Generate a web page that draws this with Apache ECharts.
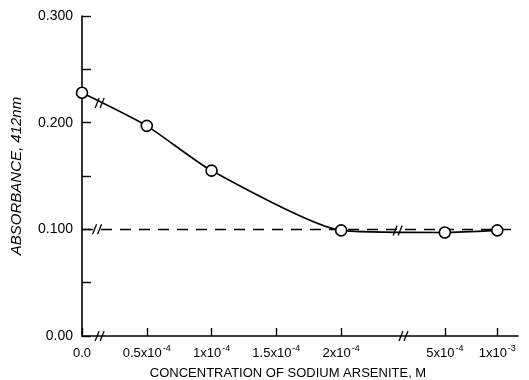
<!DOCTYPE html>
<html>
<head>
<meta charset="utf-8">
<script src="https://cdn.jsdelivr.net/npm/echarts@6/dist/echarts.min.js"></script>
<style>
  html, body { margin: 0; padding: 0; background: #fff; }
  #chart { width: 529px; height: 380px; }
</style>
</head>
<body>
<div id="chart"></div>
<script>
// broken x axis: concentrations drawn at these axis positions
const tickBase = ['0.0', '0.5x10', '1x10', '1.5x10', '2x10', '5x10', '1x10'];
const tickExp = ['', '-4', '-4', '-4', '-4', '-4', '-3'];
const tickPos = [0, 1, 2, 3, 4, 5.6, 6.41];

// measured points: index into the tick list, absorbance at 412 nm
const pointTick = [0, 1, 2, 4, 5, 6];
const absorbance = [0.228, 0.197, 0.155, 0.099, 0.097, 0.099];

const refLevel = 0.100;

const chart = echarts.init(document.getElementById('chart'));
const font = 'Liberation Sans';

const option = {
  animation: false,
  textStyle: { fontFamily: font, color: '#000' },
  grid: { left: 82, right: 11, top: 16, bottom: 44, outerBoundsMode: 'none', containLabel: false },
  xAxis: {
    type: 'value',
    min: 0,
    max: 6.73,
    name: 'CONCENTRATION OF SODIUM ARSENITE, M',
    nameLocation: 'middle',
    nameGap: 31,
    nameTextStyle: { fontSize: 13, color: '#000', padding: [0, 24, 0, 0] },
    axisLine: { lineStyle: { color: '#000', width: 1.6 } },
    axisTick: { inside: true, length: 8, customValues: tickPos, lineStyle: { color: '#000', width: 1.4 } },
    axisLabel: {
      customValues: tickPos,
      margin: 8,
      color: '#000',
      formatter: v => {
        const i = tickPos.indexOf(v);
        if (i < 0) return '';
        return tickExp[i] ? '{b|' + tickBase[i] + '}{s|' + tickExp[i] + '}' : '{b|' + tickBase[i] + '}';
      },
      rich: {
        b: { fontSize: 13, fontFamily: font, color: '#000', lineHeight: 16, verticalAlign: 'bottom' },
        s: { fontSize: 9, fontFamily: font, color: '#000', lineHeight: 16, verticalAlign: 'top', padding: [0, 0, 0, 1] }
      }
    },
    splitLine: { show: false }
  },
  yAxis: {
    type: 'value',
    min: 0,
    max: 0.3,
    interval: 0.05,
    name: 'ABSORBANCE, 412nm',
    nameLocation: 'middle',
    nameGap: 58,
    nameTextStyle: { fontSize: 15, fontStyle: 'italic', color: '#000' },
    axisLine: { show: true, lineStyle: { color: '#000', width: 1.6 } },
    axisTick: { inside: true, length: 9, lineStyle: { color: '#000', width: 1.4 } },
    axisLabel: {
      margin: 9,
      fontSize: 14,
      color: '#000',
      formatter: v => {
        if (v === 0) return '0.00';
        return Math.round(v * 1000) % 100 === 0 ? v.toFixed(3) : '';
      }
    },
    splitLine: { show: false }
  },
  series: [
    {
      type: 'line',
      data: pointTick.map((t, i) => [tickPos[t], absorbance[i]]),
      smooth: 0.2,
      symbol: 'circle',
      symbolSize: 11,
      showAllSymbol: true,
      itemStyle: { color: '#fff', borderColor: '#000', borderWidth: 1.6 },
      lineStyle: { color: '#000', width: 1.6 },
      z: 5,
      markLine: {
        silent: true,
        symbol: 'none',
        label: { show: false },
        lineStyle: { color: '#000', width: 1.4, type: [11, 8] },
        data: [{ yAxis: refLevel }]
      }
    }
  ]
};
chart.setOption(option);

// axis-break marks ("//") placed through the chart's own scales
const breaks = [
  [0.28, 0],
  [0.28, 0.2185],
  [0.24, refLevel],
  [4.97, 0],
  [4.88, refLevel - 0.001]
];
const graphics = breaks.map(b => {
  const p = chart.convertToPixel({ gridIndex: 0 }, b);
  const x = p[0], y = p[1];
  return {
    type: 'group',
    z: 100,
    children: [
      { type: 'polygon', shape: { points: [[x - 4, y + 5], [x, y - 5], [x + 4, y - 5], [x, y + 5]] }, style: { fill: '#fff' } },
      { type: 'line', shape: { x1: x - 5, y1: y + 5, x2: x - 1, y2: y - 5 }, style: { stroke: '#000', lineWidth: 1.3 } },
      { type: 'line', shape: { x1: x + 0, y1: y + 5, x2: x + 4, y2: y - 5 }, style: { stroke: '#000', lineWidth: 1.3 } }
    ]
  };
});
chart.setOption({ graphic: graphics });
</script>
</body>
</html>
